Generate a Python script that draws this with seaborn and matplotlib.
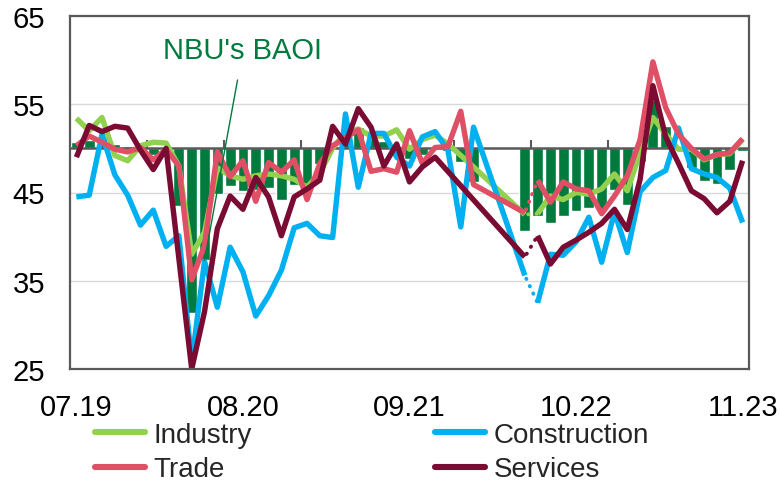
import numpy as np
import pandas as pd
import seaborn as sns
import matplotlib.pyplot as plt

# monthly categories 07.19 .. 11.23
months = pd.date_range("2019-07-01", periods=53, freq="MS").strftime("%m.%y").tolist()
tick_labels = ["07.19", "08.20", "09.21", "10.22", "11.23"]

nan = np.nan
baoi = [50.7, 51.0, 51.2, 50.5, 50.3, 50.2, 49.3, 49.5, 43.5, 31.4,
        37.3, 44.8, 45.7, 45.2, 45.3, 45.5, 44.1, 45.8, 46.0, 48.2,
        50.3, 51.8, 52.4, 51.3, 50.8, 50.3, 48.8, 49.2, 50.2, 49.7,
        48.5, 46.2, nan, nan, nan, 40.6, 42.3, 41.5, 42.3, 42.9,
        43.2, 43.0, 45.3, 43.6, 48.5, 55.5, 52.5, 50.3, 47.8, 46.3,
        46.0, 47.5, 49.7]
industry = [53.4, 52.0, 53.5, 49.2, 48.6, 50.3, 50.7, 50.6, 48.0, 38.0,
            40.5, 47.8, 46.9, 46.5, 46.9, 47.1, 46.9, 46.5, 45.6, 47.2,
            50.0, 51.8, 52.2, 51.4, 51.4, 52.1, 49.9, 51.0, 51.5, 50.5,
            49.2, 47.9, nan, nan, nan, 42.5, 42.6, 44.6, 44.2, 45.0,
            44.8, 45.4, 47.1, 45.2, 49.5, 53.5, 51.6, 49.9, 49.9, 48.7,
            49.3, 49.4, 51.0]
construction = [44.5, 44.7, 51.6, 47.0, 44.7, 41.3, 43.0, 38.9, 40.1, 25.8,
                37.2, 32.0, 38.8, 36.0, 31.0, 33.3, 36.2, 41.0, 41.5, 40.1,
                39.9, 53.9, 45.6, 51.7, 51.7, 49.0, 48.0, 51.3, 51.9, 49.8,
                41.1, 52.4, nan, nan, nan, 35.6, 32.5, 38.0, 37.9, 39.4,
                42.2, 37.1, 42.8, 38.2, 45.1, 46.7, 47.5, 52.3, 47.7, 47.1,
                46.7, 45.5, 41.6]
trade = [50.3, 51.4, 50.7, 49.9, 49.6, 50.1, 48.7, 49.9, 48.0, 35.1,
         39.0, 49.6, 46.8, 48.6, 44.0, 48.4, 47.3, 48.7, 44.2, 48.3,
         50.3, 51.2, 52.1, 47.4, 47.7, 47.3, 52.0, 48.3, 50.1, 50.2,
         54.2, 45.9, nan, nan, nan, 42.7, 46.4, 43.9, 46.2, 45.4,
         45.2, 42.6, 44.6, 46.9, 51.0, 59.8, 54.6, 51.6, 50.0, 48.8,
         49.3, 49.5, 51.1]
services = [49.0, 52.6, 51.9, 52.5, 52.3, 49.8, 47.6, 50.0, 37.5, 25.0,
            31.5, 40.9, 44.6, 43.1, 46.7, 44.5, 40.1, 44.5, 45.4, 46.4,
            52.5, 50.5, 54.5, 52.4, 48.0, 50.5, 46.2, 47.9, 49.0, nan,
            nan, nan, nan, nan, nan, 37.7, 40.1, 36.9, 38.8, 39.6,
            40.5, 41.5, 43.1, 40.8, 46.5, 57.1, 51.3, 48.3, 45.2, 44.3,
            42.7, 44.0, 48.6]

series = {"Industry": (industry, "#92d050"),
          "Construction": (construction, "#00b0f0"),
          "Trade": (trade, "#df4f66"),
          "Services": (services, "#7a0b33")}
bar_color = "#007a3d"
axis_color = "#595959"
gap = 35  # last month before the dotted link

sns.set_theme(style="white")
plt.rcParams["font.family"] = ["Liberation Sans", "DejaVu Sans"]

fig = plt.figure(figsize=(7.81, 4.85), dpi=100)
ax = fig.add_axes([70 / 781, 1 - 370 / 485, 679 / 781, 353 / 485])

x = np.arange(len(months))
df = pd.DataFrame({"x": x, "baoi": baoi})
df["dev"] = df["baoi"] - 50

sns.barplot(data=df, x="x", y="dev", bottom=50, native_scale=True, width=0.85,
            color=bar_color, saturation=1, ax=ax, zorder=1)

ax.axhline(50, color=axis_color, lw=1.8, zorder=1.5)
ax.vlines(np.arange(5.5, len(months), 6), 50, 50.9, color=axis_color, lw=1.5, zorder=1.5)

handles = {}
for name, (vals, col) in series.items():
    s = pd.Series(vals, index=x)
    pre, link, post = s.iloc[:gap + 1], s.iloc[gap:gap + 2], s.iloc[gap + 1:]
    sns.lineplot(x=pre.index, y=pre.values, color=col, lw=3.9, ax=ax,
                 solid_capstyle="butt", solid_joinstyle="round")
    handles[name] = ax.lines[-1]
    sns.lineplot(x=link.index, y=link.values, color=col, lw=2.8, ax=ax,
                 linestyle=(1.2, (0.1, 2.0)), dash_capstyle="round")
    sns.lineplot(x=post.index, y=post.values, color=col, lw=3.9, ax=ax,
                 solid_capstyle="butt", solid_joinstyle="round")

ax.annotate("NBU's BAOI", xy=(10, baoi[10]), xytext=(13, 61.1),
            ha="center", va="center", fontsize=21, color=bar_color,
            arrowprops=dict(arrowstyle="-", color=bar_color, lw=1,
                            shrinkA=9, shrinkB=0))

ax.set_xlim(-0.5, len(months) - 0.5)
ax.set_ylim(25, 65)
ax.set_yticks([25, 35, 45, 55, 65])
ax.set_xticks([months.index(t) for t in tick_labels], tick_labels)
ax.yaxis.grid(True, color="#d9d9d9", lw=1)
ax.xaxis.grid(False)
ax.set_axisbelow(True)
ax.set_xlabel("")
ax.set_ylabel("")
ax.tick_params(axis="y", direction="in", length=6, width=1.3, color=axis_color,
               pad=18, labelsize=21, labelcolor="black")
ax.tick_params(axis="x", length=0, pad=17, labelsize=21, labelcolor="black")
for sp in ax.spines.values():
    sp.set_visible(True)
    sp.set_color(axis_color)
    sp.set_linewidth(1.6)

order = ["Industry", "Trade", "Construction", "Services"]
leg = fig.legend([handles[n] for n in order], order, loc="upper left",
                 bbox_to_anchor=(95 / 781, 1 - 423 / 485), ncol=2, frameon=False,
                 fontsize=20, handlelength=1.8, handletextpad=0.3,
                 columnspacing=6.6, labelspacing=0.3, borderpad=0, borderaxespad=0)
for h in leg.get_lines():
    h.set_linewidth(4.4)
    h.set_solid_capstyle("round")

fig.savefig("out.png", dpi=100)
